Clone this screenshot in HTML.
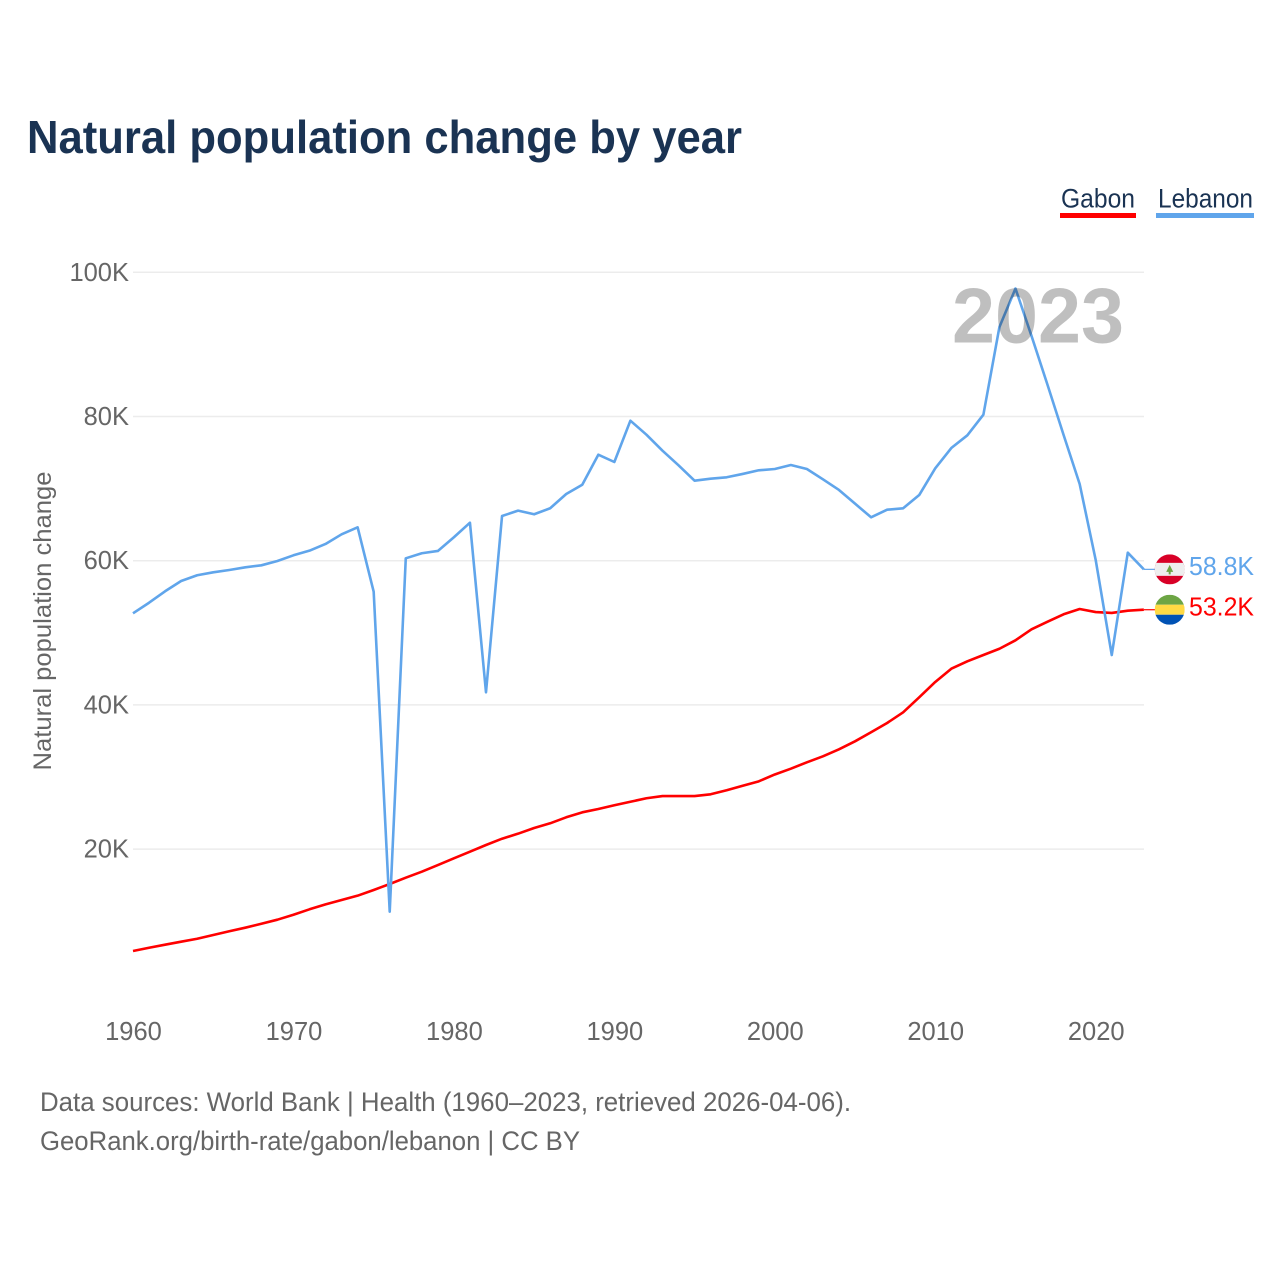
<!DOCTYPE html>
<html lang="en">
<head>
<meta charset="utf-8">
<title>Natural population change by year</title>
<style>
  html, body { margin: 0; padding: 0; background: #fff; }
  svg { display: block; font-family: "Liberation Sans", sans-serif; }
</style>
</head>
<body>
<svg id="chart" xmlns="http://www.w3.org/2000/svg" width="1280" height="1280" viewBox="0 0 1280 1280">
  <rect x="0" y="0" width="1280" height="1280" fill="#ffffff"/>
  <text x="27" y="153" font-size="46" font-weight="700" fill="#1a3353" textLength="715" lengthAdjust="spacingAndGlyphs">Natural population change by year</text>

  <g>
    <g>
      <text x="1061" y="207.5" font-size="27" fill="#1a3353" textLength="74" lengthAdjust="spacingAndGlyphs">Gabon</text>
      <rect x="1060" y="213" width="76" height="5" fill="#ff0000"/>
    </g>
    <g>
      <text x="1158" y="207.5" font-size="27" fill="#1a3353" textLength="95" lengthAdjust="spacingAndGlyphs">Lebanon</text>
      <rect x="1156" y="213" width="98" height="5" fill="#60a5eb"/>
    </g>
  </g>

  <g id="grid"></g>
  <g id="yticks"></g>
  <g id="xticks"></g>
  <text transform="translate(51,621) rotate(-90)" text-anchor="middle" font-size="25" fill="#666666" textLength="299" lengthAdjust="spacingAndGlyphs">Natural population change</text>

  <g id="series"></g>

  <text x="952" y="342.5" font-size="78" font-weight="700" fill="#000000" fill-opacity="0.25" textLength="172" lengthAdjust="spacingAndGlyphs">2023</text>

  <g id="flag-lebanon">
    <clipPath id="clip-lb"><circle cx="0" cy="0" r="15"/></clipPath>
    <g clip-path="url(#clip-lb)">
      <rect x="-15" y="-15" width="30" height="30" fill="#d80027"/>
      <rect x="-15" y="-6.5" width="30" height="13" fill="#eeeeee"/>
      <polygon points="0,-4.5 3.5,2.5 1,2.5 1,5 -1,5 -1,2.5 -3.5,2.5" fill="#6da544"/>
    </g>
  </g>
  <g id="flag-gabon">
    <clipPath id="clip-ga"><circle cx="0" cy="0" r="15"/></clipPath>
    <g clip-path="url(#clip-ga)">
      <rect x="-15" y="-15" width="30" height="10" fill="#6da544"/>
      <rect x="-15" y="-5" width="30" height="10" fill="#ffda44"/>
      <rect x="-15" y="5" width="30" height="10" fill="#0052b4"/>
    </g>
  </g>
  <text id="value-lebanon" x="1189" font-size="25.5" fill="#60a5eb" textLength="65" lengthAdjust="spacingAndGlyphs"></text>
  <text id="value-gabon" x="1189" font-size="25.5" fill="#ff0000" textLength="65" lengthAdjust="spacingAndGlyphs"></text>

  <text x="40" y="1111" font-size="26.5" fill="#666666" textLength="811" lengthAdjust="spacingAndGlyphs">Data sources: World Bank | Health (1960–2023, retrieved 2026-04-06).</text>
  <text x="40" y="1150" font-size="26.5" fill="#666666" textLength="540" lengthAdjust="spacingAndGlyphs">GeoRank.org/birth-rate/gabon/lebanon | CC BY</text>
</svg>

<script>
const years = [1960,1961,1962,1963,1964,1965,1966,1967,1968,1969,1970,1971,1972,1973,1974,1975,1976,1977,1978,1979,1980,1981,1982,1983,1984,1985,1986,1987,1988,1989,1990,1991,1992,1993,1994,1995,1996,1997,1998,1999,2000,2001,2002,2003,2004,2005,2006,2007,2008,2009,2010,2011,2012,2013,2014,2015,2016,2017,2018,2019,2020,2021,2022,2023];
const gabonValues = [5.87,6.32,6.74,7.16,7.57,8.09,8.60,9.10,9.65,10.21,10.90,11.65,12.34,12.94,13.54,14.33,15.16,16.03,16.87,17.79,18.72,19.64,20.57,21.44,22.14,22.93,23.58,24.41,25.10,25.56,26.08,26.57,27.05,27.36,27.36,27.36,27.60,28.16,28.79,29.40,30.35,31.15,32.04,32.87,33.84,34.95,36.20,37.49,38.97,41.05,43.18,45.02,46.05,46.92,47.79,48.96,50.49,51.54,52.57,53.30,52.88,52.75,53.07,53.2];
const lebanonValues = [52.70,54.17,55.76,57.18,57.98,58.39,58.71,59.08,59.36,59.96,60.75,61.39,62.32,63.66,64.63,55.70,11.32,60.33,61.03,61.35,63.25,65.27,41.75,66.20,66.94,66.44,67.27,69.25,70.54,74.70,73.69,79.42,77.48,75.26,73.23,71.10,71.37,71.57,72.03,72.54,72.72,73.27,72.72,71.29,69.81,67.91,66.02,67.07,67.27,69.11,72.82,75.63,77.39,80.25,92.41,97.75,91.17,84.37,77.43,70.64,60.10,46.92,61.11,58.8];
const yTickValues = [20,40,60,80,100];
const xTickValues = [1960,1970,1980,1990,2000,2010,2020];

const NS = 'http://www.w3.org/2000/svg';
function xScale(year) { return 133 + (year - 1960) * 16.045; }
function yScale(v) { return 272.3 + (100 - v) * 7.21; }
function fmt(v) { return v.toFixed(1) + 'K'; }

const grid = document.getElementById('grid');
const yticks = document.getElementById('yticks');
const xticks = document.getElementById('xticks');
const series = document.getElementById('series');

yTickValues.forEach(function (v) {
  const line = document.createElementNS(NS, 'line');
  
  
  line.setAttribute('x1', 133);
  line.setAttribute('x2', 1144);
  line.setAttribute('y1', yScale(v));
  line.setAttribute('y2', yScale(v));
  line.setAttribute('stroke', '#ececec');
  line.setAttribute('stroke-width', 1.5);
  grid.appendChild(line);

  const label = document.createElementNS(NS, 'text');
  
  
  label.setAttribute('x', 129);
  label.setAttribute('y', yScale(v) + 8.5);
  label.setAttribute('text-anchor', 'end');
  label.setAttribute('font-size', 25.5);
  label.setAttribute('fill', '#666666');
  label.textContent = v + 'K';
  yticks.appendChild(label);
});

xTickValues.forEach(function (yr) {
  const label = document.createElementNS(NS, 'text');
  
  
  label.setAttribute('x', xScale(yr) + 0.5);
  label.setAttribute('y', 1040);
  label.setAttribute('text-anchor', 'middle');
  label.setAttribute('font-size', 25.5);
  label.setAttribute('fill', '#666666');
  label.textContent = yr;
  xticks.appendChild(label);
});

function pathFor(values) {
  return values.map(function (v, i) {
    return (i ? 'L' : 'M') + xScale(years[i]).toFixed(2) + ' ' + yScale(v).toFixed(2);
  }).join(' ');
}

const gabonLine = document.createElementNS(NS, 'path');


gabonLine.setAttribute('d', pathFor(gabonValues));
gabonLine.setAttribute('fill', 'none');
gabonLine.setAttribute('stroke', '#ff0000');
gabonLine.setAttribute('stroke-width', 2.6);
gabonLine.setAttribute('stroke-linejoin', 'round');
series.appendChild(gabonLine);

const lebanonLine = document.createElementNS(NS, 'path');


lebanonLine.setAttribute('d', pathFor(lebanonValues));
lebanonLine.setAttribute('fill', 'none');
lebanonLine.setAttribute('stroke', '#60a5eb');
lebanonLine.setAttribute('stroke-width', 2.6);
lebanonLine.setAttribute('stroke-linejoin', 'round');
series.appendChild(lebanonLine);

const lastGabon = gabonValues[gabonValues.length - 1];
const lastLebanon = lebanonValues[lebanonValues.length - 1];
const lastX = xScale(years[years.length - 1]);

const gabonLink = document.createElementNS(NS, 'line');


gabonLink.setAttribute('x1', lastX);
gabonLink.setAttribute('x2', 1155);
gabonLink.setAttribute('y1', yScale(lastGabon));
gabonLink.setAttribute('y2', yScale(lastGabon));
gabonLink.setAttribute('stroke', '#ff0000');
gabonLink.setAttribute('stroke-width', 1.2);
series.appendChild(gabonLink);

const lebanonLink = document.createElementNS(NS, 'line');


lebanonLink.setAttribute('x1', lastX);
lebanonLink.setAttribute('x2', 1155);
lebanonLink.setAttribute('y1', yScale(lastLebanon));
lebanonLink.setAttribute('y2', yScale(lastLebanon));
lebanonLink.setAttribute('stroke', '#60a5eb');
lebanonLink.setAttribute('stroke-width', 1.2);
series.appendChild(lebanonLink);

document.getElementById('flag-lebanon').setAttribute('transform', 'translate(1169.7,' + yScale(lastLebanon) + ')');
document.getElementById('flag-gabon').setAttribute('transform', 'translate(1169.7,' + yScale(lastGabon) + ')');

const valueLebanon = document.getElementById('value-lebanon');
valueLebanon.setAttribute('y', yScale(lastLebanon) + 5.5);
valueLebanon.textContent = fmt(lastLebanon);

const valueGabon = document.getElementById('value-gabon');
valueGabon.setAttribute('y', yScale(lastGabon) + 6);
valueGabon.textContent = fmt(lastGabon);
</script>
</body>
</html>
